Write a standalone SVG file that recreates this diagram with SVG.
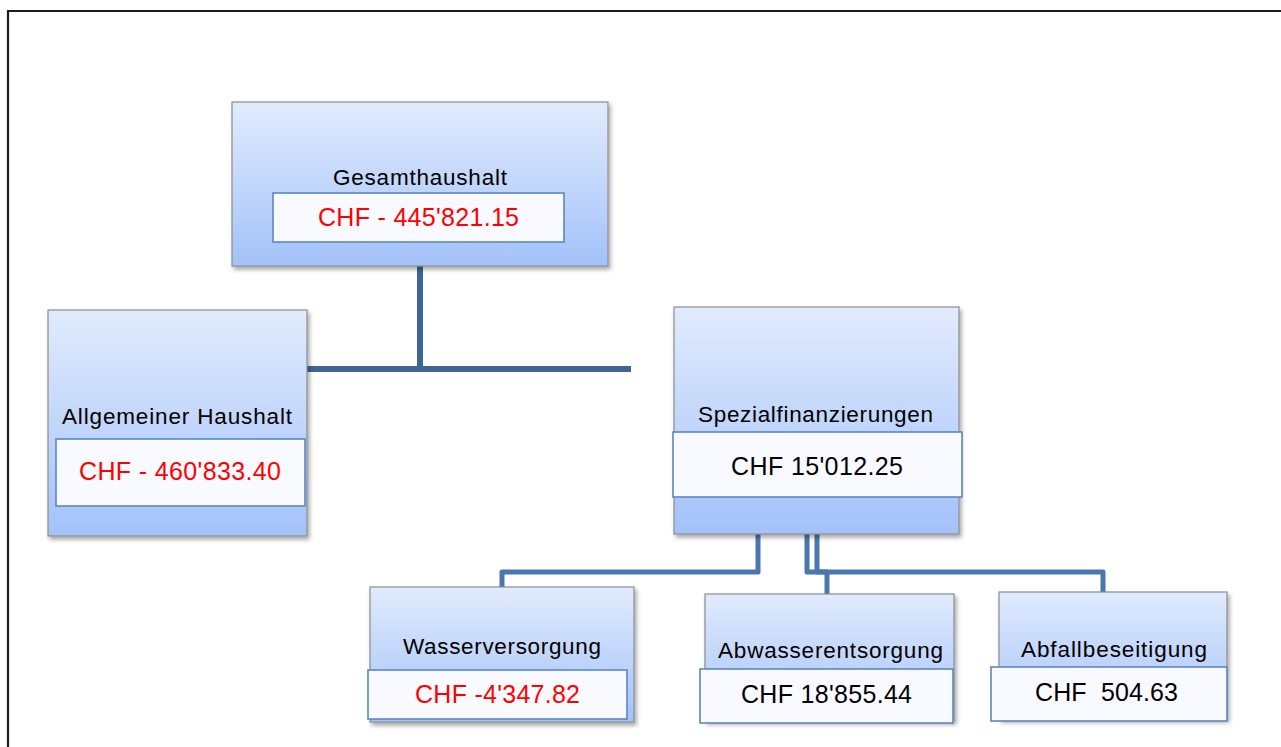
<svg xmlns="http://www.w3.org/2000/svg" width="1281" height="747" viewBox="0 0 1281 747">
<defs>
<linearGradient id="g" x1="0" y1="0" x2="0" y2="1">
<stop offset="0" stop-color="#e1ebfd"/>
<stop offset="1" stop-color="#a3c2f9"/>
</linearGradient>
<filter id="sh" x="-10%" y="-10%" width="125%" height="125%">
<feDropShadow dx="2" dy="3" stdDeviation="2" flood-color="#000" flood-opacity="0.35"/>
</filter>
<style>
.box{fill:url(#g);stroke:#8c8c8c;stroke-width:1.2;filter:url(#sh)}
.val{fill:#f8faff;stroke:#5b87c3;stroke-width:1.6}
.t{font-family:"Liberation Sans",Arial,sans-serif;font-size:22.5px;fill:#000;text-anchor:middle}
.v{font-family:"Liberation Sans",Arial,sans-serif;font-size:25px;text-anchor:middle;white-space:pre}
.red{fill:#ff0000}
.blk{fill:#000}
.c1{fill:none;stroke:#3f6595;stroke-width:6}
.c2{fill:none;stroke:#4a77ae;stroke-width:5;stroke-linejoin:round}
</style>
</defs>
<rect width="1281" height="747" fill="#fff"/>
<path d="M8,760 V11 H1295" fill="none" stroke="#1c1c1c" stroke-width="2.2"/>

<g id="connectors">
<path class="c1" d="M420,266 V369"/>
<path class="c1" d="M307,369 H631"/>
<path class="c2" d="M758,534 V572 H502 V587"/>
<path class="c2" d="M807,534 V572 H827 V594"/>
<path class="c2" d="M817,534 V572 H1103 V592"/>
</g>

<g id="gesamthaushalt">
<rect class="box" x="232" y="102" width="376" height="164"/>
<rect class="val" x="273" y="193" width="291" height="49"/>
<text class="t" x="420" y="185" textLength="174">Gesamthaushalt</text>
<text class="v red" x="418.5" y="226" textLength="201">CHF - 445'821.15</text>
</g>

<g id="allgemeiner">
<rect class="box" x="48" y="310" width="259" height="226"/>
<rect class="val" x="56" y="439" width="249" height="67"/>
<text class="t" x="177" y="424" textLength="230">Allgemeiner Haushalt</text>
<text class="v red" x="180" y="480" textLength="202">CHF - 460'833.40</text>
</g>

<g id="spezial">
<rect class="box" x="674" y="307" width="285" height="227"/>
<rect class="val" x="673" y="432" width="289" height="65"/>
<text class="t" x="815.5" y="422" textLength="235">Spezialfinanzierungen</text>
<text class="v blk" x="817" y="475" textLength="172">CHF 15'012.25</text>
</g>

<g id="wasser">
<rect class="box" x="370" y="587" width="264" height="135"/>
<rect class="val" x="368" y="670" width="259" height="49"/>
<text class="t" x="502" y="654" textLength="198">Wasserversorgung</text>
<text class="v red" x="497.5" y="703" textLength="165">CHF -4'347.82</text>
</g>

<g id="abwasser">
<rect class="box" x="705" y="594" width="249" height="127"/>
<rect class="val" x="700" y="669" width="253" height="54"/>
<text class="t" x="830.5" y="658" textLength="225">Abwasserentsorgung</text>
<text class="v blk" x="826.5" y="703" textLength="171">CHF 18'855.44</text>
</g>

<g id="abfall">
<rect class="box" x="999" y="592" width="228" height="127"/>
<rect class="val" x="991" y="667" width="236" height="54"/>
<text class="t" x="1114" y="657" textLength="186">Abfallbeseitigung</text>
<text class="v blk" x="1106.5" y="701" textLength="143">CHF  504.63</text>
</g>
</svg>
